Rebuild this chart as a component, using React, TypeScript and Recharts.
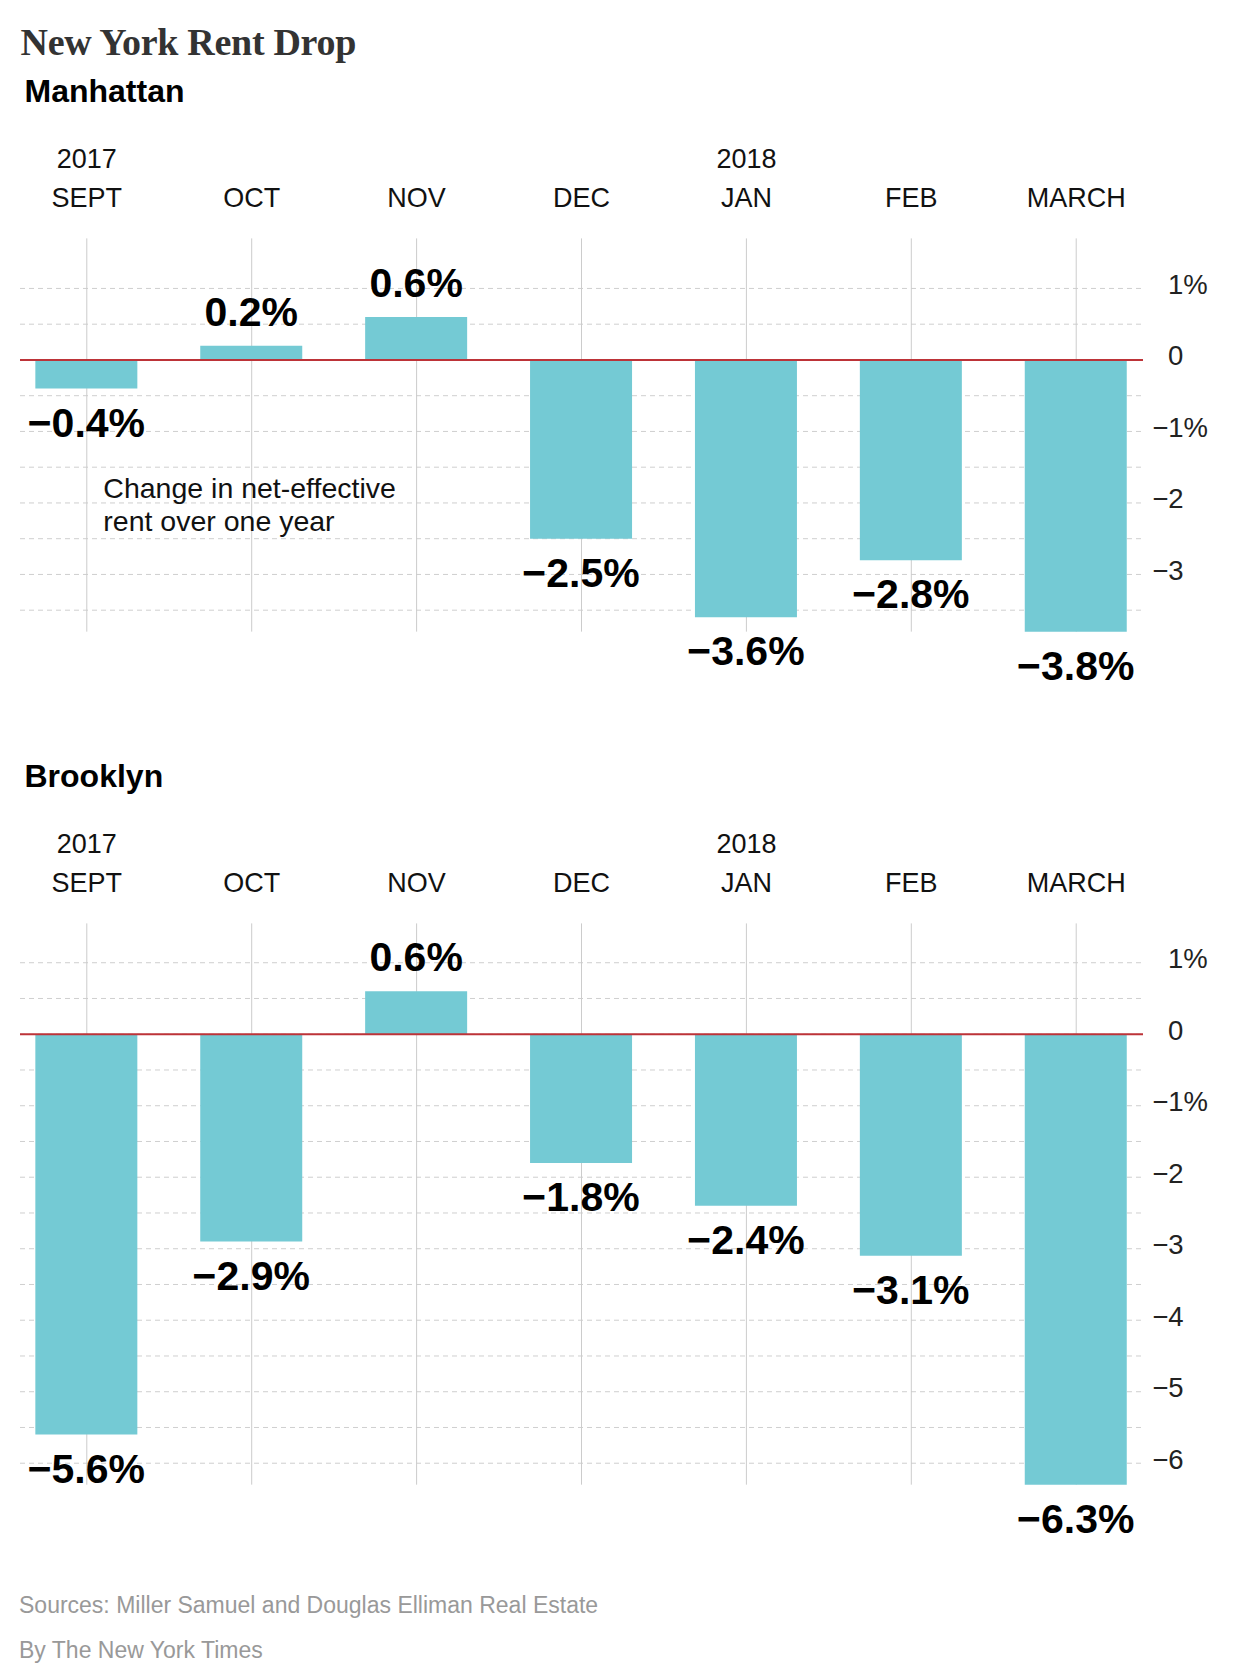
import { BarChart, Bar, XAxis, YAxis, CartesianGrid, ReferenceLine, LabelList } from 'recharts';

const months = ['SEPT', 'OCT', 'NOV', 'DEC', 'JAN', 'FEB', 'MARCH'];
const years = ['2017', '', '', '', '2018', '', ''];
const manhattan = [-0.4, 0.2, 0.6, -2.5, -3.6, -2.8, -3.8];
const brooklyn = [-5.6, -2.9, 0.6, -1.8, -2.4, -3.1, -6.3];
const manhattanTicks = [1, 0.5, 0, -0.5, -1, -1.5, -2, -2.5, -3, -3.5];
const brooklynTicks = [1, 0.5, 0, -0.5, -1, -1.5, -2, -2.5, -3, -3.5, -4, -4.5, -5, -5.5, -6];
const monthIdx = [0, 1, 2, 3, 4, 5, 6];

const SANS = '"Liberation Sans", Arial, sans-serif';
const SERIF = '"Liberation Serif", "Times New Roman", serif';
const BAR = '#74cad4';
const MINUS = '\u2212';

const PX_PER_PCT = 71.5;

const fmtValue = (v: number) => (v < 0 ? MINUS : '') + Math.abs(v).toFixed(1) + '%';

const MonthTick = (props: any) => {
    const { x, y, payload } = props;
    const i = payload.value as number;
    return (
        <g>
            {years[i] ? (
                <text x={x} y={y - 70} textAnchor="middle" fontFamily={SANS} fontSize={27} fill="#111">
                    {years[i]}
                </text>
            ) : null}
            <text x={x} y={y - 31.5} textAnchor="middle" fontFamily={SANS} fontSize={27} fill="#111">
                {months[i]}
            </text>
        </g>
    );
};

const PctTick = (props: any) => {
    const { x, y, payload } = props;
    const v = payload.value as number;
    if (!Number.isInteger(v)) return <g />;
    // only 1% and -1% carry the percent sign
    const label = v === 0 ? '0' : (v < 0 ? MINUS : '') + Math.abs(v) + (v === 1 || v === -1 ? '%' : '');
    const shift = v < 0 ? 15.8 : 0;
    return (
        <text x={x + 25 - shift} y={y + 5.5} textAnchor="start" fontFamily={SANS} fontSize={27.5} fill="#222">
            {label}
        </text>
    );
};

const ValueLabel = (props: any) => {
    const { x, y, width, height, value } = props;
    const top = Math.min(y, y + height);
    const bottom = Math.max(y, y + height);
    const ty = value >= 0 ? top - 20 : bottom + 48;
    return (
        <text x={x + width / 2} y={ty} textAnchor="middle" fontFamily={SANS} fontWeight="bold" fontSize={41} fill="#000">
            {fmtValue(value)}
        </text>
    );
};

const Panel = ({ values, ticks, min, max, top }: { values: number[]; ticks: number[]; min: number; max: number; top: number }) => {
    const data = monthIdx.map((i) => ({ i, value: values[i] }));
    const plotH = (max - min) * PX_PER_PCT;
    const height = 148.4 + 90 + plotH + 70;
    return (
        <div style={{ position: 'absolute', left: 0, top, width: 1240, height }}>
            <BarChart
                width={1240}
                height={height}
                data={data}
                margin={{ top: 148.4, right: 0, left: 20, bottom: 70 }}
            >
                <CartesianGrid vertical={false} syncWithTicks stroke="#cfcfcf" strokeDasharray="5 4" />
                <CartesianGrid horizontal={false} syncWithTicks stroke="#cccccc" />
                <XAxis
                    dataKey="i"
                    type="number"
                    orientation="top"
                    domain={[-0.405, 6.405]}
                    ticks={monthIdx}
                    interval={0}
                    height={90}
                    axisLine={false}
                    tickLine={false}
                    tickSize={0}
                    tickMargin={0}
                    tick={<MonthTick />}
                />
                <YAxis
                    type="number"
                    orientation="right"
                    domain={[min, max]}
                    ticks={ticks}
                    interval={0}
                    width={97}
                    axisLine={false}
                    tickLine={false}
                    tickSize={0}
                    tickMargin={0}
                    tick={<PctTick />}
                />
                <Bar dataKey="value" fill={BAR} barSize={102} isAnimationActive={false}>
                    <LabelList dataKey="value" content={<ValueLabel />} />
                </Bar>
                <ReferenceLine y={0} stroke="#bd3338" strokeWidth={2} />
            </BarChart>
        </div>
    );
};

const App = () => {
    return (
        <div style={{ position: 'absolute', left: 0, top: 0, width: 1240, height: 1678, background: '#fff', fontFamily: SANS }}>
            <div style={{ position: 'absolute', left: 20.5, top: 23.2, fontFamily: SERIF, fontWeight: 'bold', fontSize: 38, lineHeight: '38px', letterSpacing: -0.3, color: '#333', whiteSpace: 'nowrap' }}>
                New York Rent Drop
            </div>
            <div style={{ position: 'absolute', left: 24.5, top: 74.6, fontWeight: 'bold', fontSize: 32, lineHeight: '32px', color: '#000', whiteSpace: 'nowrap' }}>
                Manhattan
            </div>
            <div style={{ position: 'absolute', left: 24.5, top: 759.6, fontWeight: 'bold', fontSize: 32, lineHeight: '32px', color: '#000', whiteSpace: 'nowrap' }}>
                Brooklyn
            </div>

            <Panel values={manhattan} ticks={manhattanTicks} min={-3.8} max={1.7} top={0} />
            <Panel values={brooklyn} ticks={brooklynTicks} min={-6.3} max={1.55} top={685} />

            <div style={{ position: 'absolute', left: 103.3, top: 471.6, fontSize: 28.5, lineHeight: '33.4px', color: '#111', whiteSpace: 'nowrap' }}>
                Change in net-effective
                <br />
                rent over one year
            </div>

            <div style={{ position: 'absolute', left: 19, top: 1582.9, fontSize: 23, lineHeight: '45px', color: '#999', whiteSpace: 'nowrap' }}>
                Sources: Miller Samuel and Douglas Elliman Real Estate
                <br />
                By The New York Times
            </div>
        </div>
    );
};

export default App;
